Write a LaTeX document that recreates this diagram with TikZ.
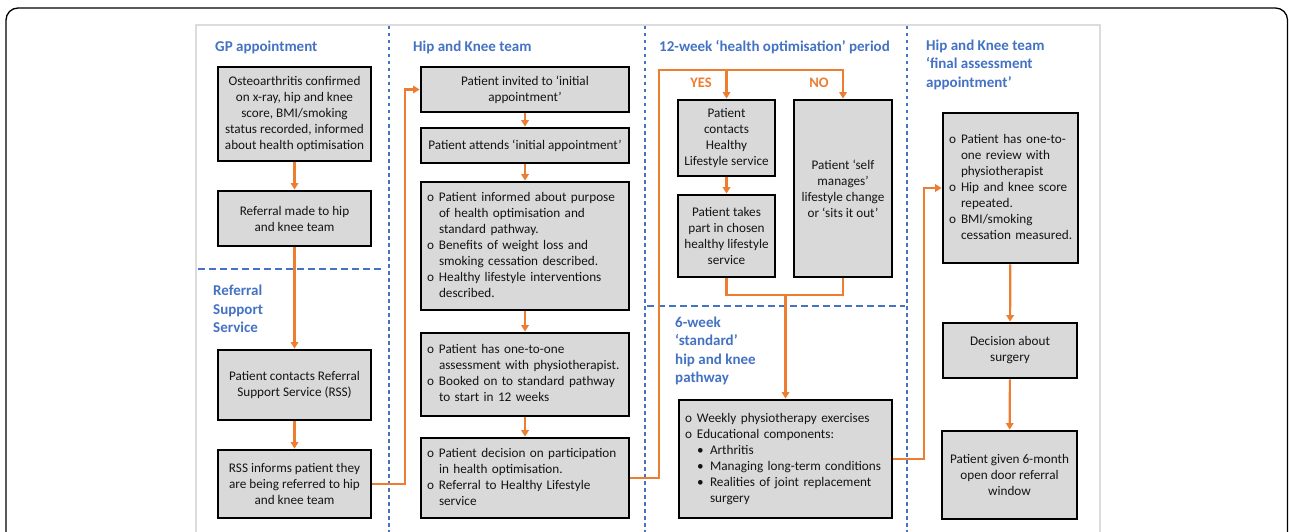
\documentclass[tikz,border=0pt]{standalone}
\usepackage{fontspec}
\setmainfont{Carlito}
\usetikzlibrary{arrows.meta}
\definecolor{hblue}{HTML}{4472C4}
\definecolor{orng}{HTML}{ED7D31}
\definecolor{boxgray}{HTML}{D9D9D9}
\definecolor{panelgray}{HTML}{DCDCDC}
\newcommand\bt[1]{\begin{tabular}{@{}l@{}}#1\end{tabular}}
\newcommand\bl{\makebox[12pt][l]{o}}
\newcommand\ind{\hspace*{12pt}}
\newcommand\dt{\hspace*{12pt}\makebox[13pt][l]{•}}
\newcommand\ddt{\hspace*{25pt}}
\begin{document}
\begin{tikzpicture}[x=1pt,y=-1pt,
  box/.style={draw=black, line width=2.8pt, fill=boxgray, text=black!92,
    font=\fontsize{13.2}{16}\selectfont, inner xsep=4pt, inner ysep=0pt, align=center},
  blbox/.style={box, align=left, inner xsep=6pt},
  hdr/.style={text=hblue, font=\fontsize{15}{18.3}\selectfont\bfseries, inner sep=0pt, anchor=north west},
  flow/.style={draw=orng, line width=2.2pt},
  arr/.style={flow, -{Triangle[length=6.5pt,width=7.5pt]}},
  vdash/.style={draw=hblue, line width=1.4pt, dash pattern=on 3.5pt off 3.5pt},
  hdash/.style={draw=hblue, line width=1.4pt, dash pattern=on 7pt off 4pt},
  lbl/.style={text=orng, font=\fontsize{14.5}{16}\selectfont\bfseries, inner sep=0pt}
]
\useasboundingbox (0,0) rectangle (1289,532);
\begin{scope}
\clip (0,0) rectangle (1289,532);
\draw[line width=1.3pt, rounded corners=12pt] (6,8) rectangle (1287.5,570);
\draw[panelgray, line width=1.6pt, fill=white] (196,25) rectangle (1100,560);
\draw[vdash] (389,26) -- (389,532);
\draw[vdash] (645,26) -- (645,532);
\draw[vdash] (907,26) -- (907,532);
\draw[hdash] (198,269) -- (381,269);
\draw[hdash] (647,306) -- (905,306);
\end{scope}

% headers
\node[hdr] (h1) at (215,38.2) {\bt{GP appointment}};
\node[hdr] (h2) at (413,38.2) {\bt{Hip and Knee team}};
\node[hdr] (h3) at (659,38.2) {\bt{12-week ‘health optimisation’ period}};
\node[hdr] (h4) at (926,37.5) {\bt{Hip and Knee team\\‘final assessment\\appointment’}};
\node[hdr] (h5) at (213,282.9) {\bt{Referral\\Support\\Service}};
\node[hdr] (h6) at (675,314.5) {\bt{6-week\\‘standard’\\hip and knee\\pathway}};

% GP / RSS column
\node[box, minimum width=153pt, minimum height=94pt] (g1) at (294.5,114)
  {Osteoarthritis confirmed\\on x-ray, hip and knee\\score, BMI/smoking\\status recorded, informed\\about health optimisation};
\node[box, minimum width=153pt, minimum height=55pt] (g2) at (294.5,218.5)
  {Referral made to hip\\and knee team};
\node[box, minimum width=153pt, minimum height=70pt] (r1) at (294.5,385)
  {Patient contacts Referral\\Support Service (RSS)};
\node[box, minimum width=153pt, minimum height=68pt] (r2) at (294.5,484)
  {RSS informs patient they\\are being referred to hip\\and knee team};

% Hip and Knee team column
\node[box, minimum width=208pt, minimum height=45pt] (a) at (525,89.5)
  {Patient invited to ‘initial\\appointment’};
\node[box, minimum width=208pt, minimum height=35pt] (b) at (525,145.5)
  {Patient attends ‘initial appointment’};
\node[blbox, minimum width=208pt, minimum height=128pt, text width=196pt] (c) at (525,246)
  {\bt{\bl Patient informed about purpose\\\ind of health optimisation and\\\ind standard pathway.\\\bl Benefits of weight loss and\\\ind smoking cessation described.\\\bl Healthy lifestyle interventions\\\ind described.}};
\node[blbox, minimum width=208pt, minimum height=83pt, text width=196pt] (d) at (525,374.5)
  {\bt{\bl Patient has one-to-one\\\ind assessment with physiotherapist.\\\bl Booked on to standard pathway\\\ind to start in 12 weeks}};
\node[blbox, minimum width=208pt, minimum height=80pt, text width=196pt] (e) at (525,478)
  {\bt{\bl Patient decision on participation\\\ind in health optimisation.\\\bl Referral to Healthy Lifestyle\\\ind service}};

% 12-week column
\node[box, minimum width=97pt, minimum height=76pt] (y1) at (726.5,138)
  {Patient\\contacts\\Healthy\\Lifestyle service};
\node[box, minimum width=97pt, minimum height=82pt] (y2) at (726.5,236)
  {Patient takes\\part in chosen\\healthy lifestyle\\service};
\node[box, minimum width=98pt, minimum height=177pt] (n) at (843,188.5)
  {Patient ‘self\\manages’\\lifestyle change\\or ‘sits it out’};
\node[lbl] (yes) at (701,83) {YES};
\node[lbl] (no) at (819,83) {NO};

% 6-week
\node[blbox, minimum width=213pt, minimum height=118pt, text width=201pt] (s) at (785.5,459)
  {\bt{\bl Weekly physiotherapy exercises\\\bl Educational components:\\\dt Arthritis\\\dt Managing long-term conditions\\\dt Realities of joint replacement\\\ddt surgery}};

% final column
\node[blbox, minimum width=135pt, minimum height=150pt, text width=123pt] (f1) at (1010.5,188)
  {\bt{\bl Patient has one-to-\\\ind one review with\\\ind physiotherapist\\\bl Hip and knee score\\\ind repeated.\\\bl BMI/smoking\\\ind cessation measured.}};
\node[box, minimum width=134pt, minimum height=55pt] (f2) at (1010,350.5)
  {Decision about\\surgery};
\node[box, minimum width=135pt, minimum height=88pt] (f3) at (1009.5,475)
  {Patient given 6-month\\open door referral\\window};

% junction coordinates
\coordinate (x1) at (405,0);
\coordinate (x2) at (659,70);
\coordinate (x3) at (924,0);
\coordinate (m) at (785.5,295);

% connectors
\draw[arr] (g1) -- (g2);
\draw[arr] (g2) -- (r1);
\draw[arr] (r1) -- (r2);
\draw[arr] (r2.east) -- (r2.east -| x1) |- (a.west);
\draw[arr] (a) -- (b);
\draw[arr] (b) -- (c);
\draw[arr] (c) -- (d);
\draw[arr] (d) -- (e);
\draw[arr] (e.east) -- (e.east -| x2) -- (x2) -| (n.north);
\draw[arr] (y1.north |- x2) -- (y1.north);
\draw[arr] (y1) -- (y2);
\draw[flow] (y2.south) |- (m) -| (n.south);
\draw[arr] (m) -- (s.north);
\draw[arr] (s.east) -- (s.east -| x3) |- (f1.west);
\draw[arr] (f1) -- (f2);
\draw[arr] (f2) -- (f3);
\end{tikzpicture}
\end{document}
